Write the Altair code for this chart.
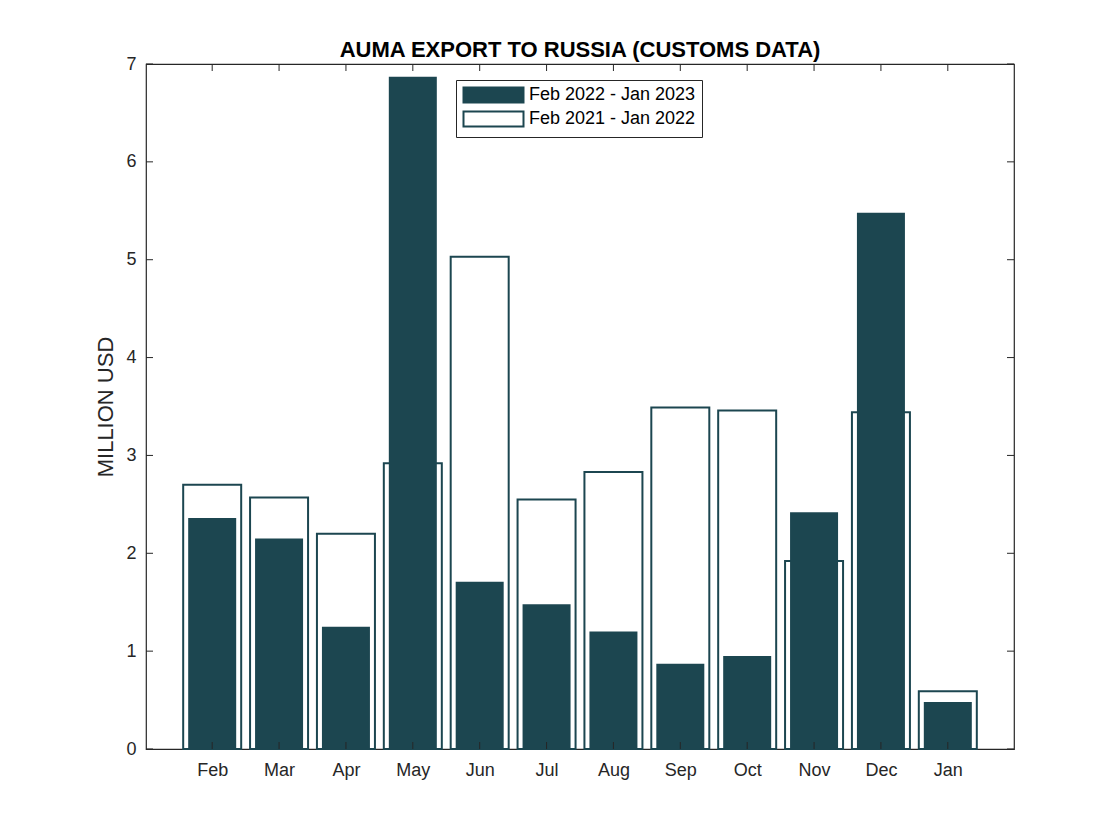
import altair as alt
import pandas as pd

months = ["Feb", "Mar", "Apr", "May", "Jun", "Jul", "Aug", "Sep", "Oct", "Nov", "Dec", "Jan"]
series_new = "Feb 2022 - Jan 2023"
series_old = "Feb 2021 - Jan 2022"
values_new = [2.36, 2.15, 1.25, 6.87, 1.71, 1.48, 1.20, 0.87, 0.95, 2.42, 5.48, 0.48]
values_old = [2.70, 2.57, 2.20, 2.92, 5.03, 2.55, 2.83, 3.49, 3.46, 1.92, 3.44, 0.59]
y_ticks = [0, 1, 2, 3, 4, 5, 6, 7]

rows = []
for i, m in enumerate(months):
    rows.append({"idx": i + 1, "month": m, "series": series_new, "value": values_new[i]})
    rows.append({"idx": i + 1, "month": m, "series": series_old, "value": values_old[i]})
df = pd.DataFrame(rows)
ticks_y = pd.DataFrame({"v": y_ticks})
ticks_x = pd.DataFrame({"idx": list(range(1, len(months) + 1))})

BAR = "#1c4650"
AX = "#262626"
W, H = 868, 685
FONT = "Liberation Sans"

label_expr = "[" + ",".join("'%s'" % m for m in months) + "][datum.value - 1]"

xscale = alt.Scale(domain=[0.085, 12.915], nice=False, zero=False)
yscale = alt.Scale(domain=[0, 7], nice=False)

xenc = alt.X("idx:Q", scale=xscale,
             axis=alt.Axis(values=list(range(1, 13)), labelExpr=label_expr, title=None,
                           domain=False, ticks=False, grid=False, labelPadding=12,
                           labelFontSize=18, labelColor=AX, labelFont=FONT))
yenc = alt.Y("value:Q", scale=yscale,
             axis=alt.Axis(values=y_ticks, format="d", title="MILLION USD", domain=False,
                           ticks=False, grid=False, labelPadding=10, labelFontSize=18,
                           labelColor=AX, labelFont=FONT, titleFont=FONT, titleFontSize=22,
                           titleFontWeight="normal", titleColor=AX, titlePadding=8))

fill_scale = alt.Scale(domain=[series_new, series_old], range=[BAR, "white"])
legend = alt.Legend(
    title=None, orient="none", legendX=310, legendY=16,
    symbolType="M-1,-1H7V1H-1Z", symbolSize=225,
    symbolStrokeColor=BAR, symbolStrokeWidth=2,
    labelFont=FONT, labelFontSize=18, labelColor="black", labelOffset=49, labelLimit=400,
    padding=6, strokeColor=AX, fillColor="white", rowPadding=0,
)

base = alt.Chart(df)
outline = base.transform_filter(alt.datum.series == series_old).mark_bar(
    width=58, stroke=BAR, strokeWidth=2
).encode(x=xenc, y=yenc, fill=alt.Fill("series:N", scale=fill_scale, legend=legend))
filled = base.transform_filter(alt.datum.series == series_new).mark_bar(
    width=48
).encode(x=xenc, y=yenc, fill=alt.Fill("series:N", scale=fill_scale, legend=legend))

tl = 7
left_ticks = alt.Chart(ticks_y).mark_rule(color=AX, strokeWidth=1).encode(
    y=alt.Y("v:Q", scale=yscale), x=alt.value(0), x2=alt.value(tl))
right_ticks = alt.Chart(ticks_y).mark_rule(color=AX, strokeWidth=1).encode(
    y=alt.Y("v:Q", scale=yscale), x=alt.value(W - tl), x2=alt.value(W))
bottom_ticks = alt.Chart(ticks_x).mark_rule(color=AX, strokeWidth=1).encode(
    x=alt.X("idx:Q", scale=xscale), y=alt.value(H), y2=alt.value(H - tl))
top_ticks = alt.Chart(ticks_x).mark_rule(color=AX, strokeWidth=1).encode(
    x=alt.X("idx:Q", scale=xscale), y=alt.value(0), y2=alt.value(tl))

chart = alt.layer(outline, filled, left_ticks, right_ticks, bottom_ticks, top_ticks).properties(
    width=W, height=H, background="white",
    title=alt.TitleParams("AUMA EXPORT TO RUSSIA (CUSTOMS DATA)", font=FONT, fontSize=22,
                          fontWeight="bold", color="black", anchor="middle", offset=-7),
    padding={"left": 86, "top": 31, "right": 10, "bottom": 10},
).configure_view(stroke=AX, strokeWidth=1.2)

chart.save("out.html", embed_options={"renderer": "svg", "actions": False})
